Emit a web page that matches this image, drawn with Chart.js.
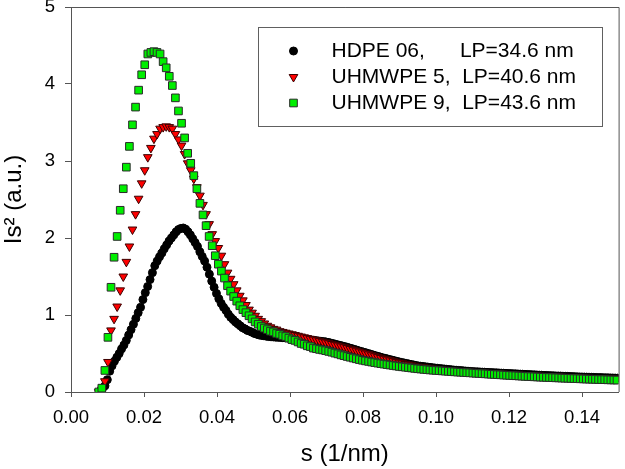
<!DOCTYPE html>
<html>
<head>
<meta charset="utf-8">
<script src="https://cdn.jsdelivr.net/npm/chart.js@4.4.1/dist/chart.umd.min.js"></script>
<style>
  html, body { margin: 0; padding: 0; background: #fff; }
  #wrap { width: 625px; height: 469px; }
</style>
</head>
<body>
<div id="wrap"><canvas id="chartIs2" width="625" height="469"></canvas></div>
<script>
// s (1/nm) values of the HDPE 06 curve
var sHdpe = [
  0.00800,0.00865,0.00930,0.00995,0.01060,0.01125,0.01190,0.01255,0.01320,0.01385,
  0.01450,0.01515,0.01580,0.01645,0.01710,0.01775,0.01840,0.01905,0.01970,0.02035,
  0.02100,0.02165,0.02230,0.02295,0.02360,0.02425,0.02490,0.02555,0.02620,0.02685,
  0.02750,0.02815,0.02880,0.02945,0.03010,0.03075,0.03140,0.03205,0.03270,0.03335,
  0.03400,0.03465,0.03530,0.03595,0.03660,0.03725,0.03790,0.03855,0.03920,0.03985,
  0.04050,0.04115,0.04180,0.04245,0.04310,0.04375,0.04440,0.04505,0.04570,0.04635,
  0.04700,0.04765,0.04830,0.04895,0.04960,0.05025,0.05090,0.05155,0.05220,0.05285,
  0.05350,0.05415,0.05480,0.05545,0.05610,0.05675,0.05740,0.05805,0.05870,0.05935,
  0.06000,0.06065,0.06130,0.06195,0.06260,0.06325,0.06390,0.06455,0.06520,0.06585,
  0.06650,0.06715,0.06780,0.06845,0.06910,0.06975,0.07040,0.07105,0.07170,0.07235,
  0.07300,0.07365,0.07430,0.07495,0.07560,0.07625,0.07690,0.07755,0.07820,0.07885,
  0.07950,0.08015,0.08080,0.08145,0.08210,0.08275,0.08340,0.08405,0.08470,0.08535,
  0.08600,0.08665,0.08730,0.08795,0.08860,0.08925,0.08990,0.09055,0.09120,0.09185,
  0.09250,0.09315,0.09380,0.09445,0.09510,0.09575,0.09640,0.09705,0.09770,0.09835,
  0.09900,0.09965,0.10030,0.10095,0.10160,0.10225,0.10290,0.10355,0.10420,0.10485,
  0.10550,0.10615,0.10680,0.10745,0.10810,0.10875,0.10940,0.11005,0.11070,0.11135,
  0.11200,0.11265,0.11330,0.11395,0.11460,0.11525,0.11590,0.11655,0.11720,0.11785,
  0.11850,0.11915,0.11980,0.12045,0.12110,0.12175,0.12240,0.12305,0.12370,0.12435,
  0.12500,0.12565,0.12630,0.12695,0.12760,0.12825,0.12890,0.12955,0.13020,0.13085,
  0.13150,0.13215,0.13280,0.13345,0.13410,0.13475,0.13540,0.13605,0.13670,0.13735,
  0.13800,0.13865,0.13930,0.13995,0.14060,0.14125,0.14190,0.14255,0.14320,0.14385,
  0.14450,0.14515,0.14580,0.14645,0.14710,0.14775,0.14840,0.14905,0.14970
];

// Is^2 of HDPE 06
var isHdpe = [
  0.00,0.05,0.08,0.16,0.27,0.34,0.40,0.45,0.50,0.56,
  0.61,0.67,0.74,0.81,0.88,0.955,1.03,1.10,1.20,1.29,
  1.37,1.46,1.55,1.64,1.70,1.755,1.805,1.86,1.91,1.96,
  2.00,2.04,2.08,2.11,2.125,2.13,2.115,2.08,2.04,1.99,
  1.94,1.89,1.82,1.76,1.70,1.62,1.53,1.44,1.36,1.28,
  1.21,1.15,1.10,1.06,1.01,0.97,0.94,0.91,0.885,0.86,
  0.835,0.82,0.80,0.79,0.775,0.76,0.75,0.74,0.735,0.73,
  0.725,0.72,0.717,0.715,0.712,0.71,0.708,0.705,0.703,0.70,
  0.700,0.698,0.695,0.692,0.689,0.686,0.684,0.681,0.679,0.675,
  0.671,0.667,0.663,0.659,0.655,0.651,0.645,0.637,0.630,0.621,
  0.614,0.606,0.598,0.590,0.582,0.572,0.564,0.554,0.545,0.535,
  0.527,0.517,0.509,0.499,0.491,0.481,0.472,0.463,0.454,0.445,
  0.438,0.430,0.422,0.414,0.407,0.398,0.391,0.384,0.378,0.371,
  0.365,0.358,0.352,0.345,0.339,0.335,0.332,0.327,0.324,0.320,
  0.316,0.312,0.309,0.305,0.302,0.299,0.295,0.292,0.289,0.285,
  0.283,0.280,0.278,0.275,0.272,0.270,0.267,0.265,0.263,0.262,
  0.260,0.258,0.257,0.255,0.253,0.252,0.250,0.249,0.247,0.245,
  0.244,0.242,0.240,0.239,0.237,0.236,0.234,0.232,0.231,0.229,
  0.228,0.226,0.224,0.223,0.221,0.219,0.218,0.216,0.215,0.213,
  0.212,0.211,0.209,0.208,0.207,0.205,0.204,0.203,0.201,0.200,
  0.199,0.197,0.196,0.195,0.194,0.193,0.192,0.191,0.190,0.189,
  0.188,0.187,0.186,0.185,0.184,0.183,0.182,0.181,0.180
];

// s (1/nm) values shared by both UHMWPE curves
var sUhmwpe = [
  0.00760,0.00844,0.00928,0.01012,0.01096,0.01180,0.01264,0.01348,0.01432,0.01516,
  0.01600,0.01684,0.01768,0.01852,0.01936,0.02020,0.02104,0.02188,0.02272,0.02356,
  0.02440,0.02524,0.02608,0.02692,0.02776,0.02860,0.02944,0.03028,0.03112,0.03196,
  0.03280,0.03364,0.03448,0.03532,0.03616,0.03700,0.03784,0.03868,0.03952,0.04036,
  0.04120,0.04204,0.04288,0.04372,0.04456,0.04540,0.04624,0.04708,0.04792,0.04876,
  0.04960,0.05044,0.05128,0.05212,0.05296,0.05380,0.05464,0.05548,0.05632,0.05716,
  0.05800,0.05884,0.05968,0.06052,0.06136,0.06220,0.06304,0.06388,0.06472,0.06556,
  0.06640,0.06724,0.06808,0.06892,0.06976,0.07060,0.07144,0.07228,0.07312,0.07396,
  0.07480,0.07564,0.07648,0.07732,0.07816,0.07900,0.07984,0.08068,0.08152,0.08236,
  0.08320,0.08404,0.08488,0.08572,0.08656,0.08740,0.08824,0.08908,0.08992,0.09076,
  0.09160,0.09244,0.09328,0.09412,0.09496,0.09580,0.09664,0.09748,0.09832,0.09916,
  0.10000,0.10084,0.10168,0.10252,0.10336,0.10420,0.10504,0.10588,0.10672,0.10756,
  0.10840,0.10924,0.11008,0.11092,0.11176,0.11260,0.11344,0.11428,0.11512,0.11596,
  0.11680,0.11764,0.11848,0.11932,0.12016,0.12100,0.12184,0.12268,0.12352,0.12436,
  0.12520,0.12604,0.12688,0.12772,0.12856,0.12940,0.13024,0.13108,0.13192,0.13276,
  0.13360,0.13444,0.13528,0.13612,0.13696,0.13780,0.13864,0.13948,0.14032,0.14116,
  0.14200,0.14284,0.14368,0.14452,0.14536,0.14620,0.14704,0.14788,0.14872,0.14956
];

// Is^2 of UHMWPE 5
var isUhmwpe5 = [
  0.00,0.03,0.14,0.39,0.80,0.95,1.11,1.32,1.50,1.69,
  1.89,2.11,2.31,2.51,2.71,2.88,3.05,3.17,3.29,3.35,
  3.42,3.44,3.45,3.44,3.42,3.35,3.28,3.20,3.09,2.97,
  2.88,2.77,2.66,2.55,2.43,2.31,2.18,2.05,1.96,1.87,
  1.77,1.66,1.55,1.47,1.40,1.32,1.25,1.19,1.13,1.07,
  1.03,0.99,0.95,0.92,0.89,0.86,0.84,0.82,0.81,0.79,
  0.78,0.77,0.76,0.75,0.74,0.73,0.72,0.71,0.70,0.69,
  0.68,0.671,0.661,0.652,0.643,0.633,0.623,0.613,0.603,0.592,
  0.582,0.571,0.559,0.548,0.536,0.524,0.512,0.500,0.489,0.477,
  0.465,0.453,0.442,0.431,0.421,0.411,0.401,0.391,0.381,0.372,
  0.364,0.356,0.347,0.339,0.330,0.325,0.320,0.315,0.310,0.305,
  0.300,0.296,0.292,0.287,0.283,0.279,0.275,0.272,0.269,0.266,
  0.263,0.261,0.258,0.256,0.253,0.251,0.249,0.247,0.245,0.242,
  0.240,0.238,0.236,0.234,0.232,0.229,0.227,0.225,0.223,0.221,
  0.219,0.217,0.215,0.213,0.211,0.208,0.206,0.205,0.203,0.201,
  0.200,0.198,0.196,0.195,0.193,0.191,0.190,0.188,0.186,0.185,
  0.183,0.182,0.180,0.179,0.177,0.176,0.174,0.173,0.172,0.170
];

// Is^2 of UHMWPE 9
var isUhmwpe9 = [
  0.00,0.05,0.28,0.71,1.36,1.75,2.02,2.36,2.64,2.92,
  3.19,3.47,3.70,3.92,4.12,4.25,4.39,4.41,4.42,4.41,
  4.39,4.29,4.21,4.10,3.98,3.82,3.65,3.49,3.30,3.10,
  2.97,2.81,2.64,2.45,2.30,2.16,2.02,1.90,1.77,1.66,
  1.57,1.48,1.38,1.31,1.24,1.18,1.12,1.07,1.03,0.99,
  0.95,0.91,0.88,0.85,0.83,0.81,0.79,0.78,0.76,0.75,
  0.73,0.72,0.70,0.68,0.67,0.65,0.63,0.62,0.60,0.59,
  0.570,0.562,0.553,0.546,0.537,0.527,0.517,0.505,0.495,0.482,
  0.472,0.461,0.451,0.441,0.431,0.421,0.412,0.404,0.397,0.389,
  0.382,0.375,0.368,0.362,0.356,0.350,0.344,0.338,0.332,0.327,
  0.322,0.317,0.312,0.307,0.302,0.298,0.294,0.290,0.286,0.283,
  0.280,0.277,0.274,0.271,0.268,0.265,0.262,0.259,0.257,0.254,
  0.251,0.249,0.246,0.243,0.241,0.238,0.236,0.233,0.230,0.228,
  0.225,0.223,0.220,0.218,0.215,0.213,0.211,0.208,0.206,0.203,
  0.201,0.199,0.197,0.195,0.193,0.191,0.189,0.188,0.186,0.184,
  0.183,0.181,0.179,0.178,0.176,0.174,0.173,0.171,0.170,0.168,
  0.167,0.165,0.164,0.162,0.161,0.160,0.158,0.157,0.156,0.155
];

var seriesLabels = ['HDPE 06,      LP=34.6 nm', 'UHMWPE 5,  LP=40.6 nm', 'UHMWPE 9,  LP=43.6 nm'];
var xTickValues = [0, 0.02, 0.04, 0.06, 0.08, 0.10, 0.12, 0.14];
var yTickValues = [0, 1, 2, 3, 4, 5];

function toPoints(xs, ys) {
    return xs.map(function(x, k) { return { x: x, y: ys[k] }; });
}

var FONT = "'Liberation Sans', Arial, sans-serif";
var AXIS_COLOR = '#555555';

// own marker drawing for the boxed legend
function drawMarker(ctx, style, x, y) {
    ctx.save();
    ctx.fillStyle = style.fill;
    ctx.strokeStyle = style.stroke;
    ctx.lineWidth = 1;
    ctx.beginPath();
    if (style.shape === 'circle') {
        ctx.arc(x, y, style.r, 0, Math.PI * 2);
    } else if (style.shape === 'triangle') {
        var r = style.r;
        ctx.moveTo(x - r * 0.866, y - r * 0.5);
        ctx.lineTo(x + r * 0.866, y - r * 0.5);
        ctx.lineTo(x, y + r);
        ctx.closePath();
    } else {
        var h = style.r * Math.SQRT1_2;
        ctx.rect(x - h, y - h, 2 * h, 2 * h);
    }
    ctx.fill();
    ctx.stroke();
    ctx.restore();
}

var markerStyles = [
    { shape: 'circle', r: 4, fill: '#000000', stroke: '#000000' },
    { shape: 'triangle', r: 5, fill: '#ff0000', stroke: '#3a0000' },
    { shape: 'rect', r: 5.4, fill: '#00ee00', stroke: '#2a2a2a' }
];

var framePlugin = {
    id: 'frame',
    afterDraw: function(chart) {
        var a = chart.chartArea;
        var ctx = chart.ctx;
        ctx.save();
        ctx.strokeStyle = AXIS_COLOR;
        ctx.lineWidth = 1;
        ctx.beginPath();
        ctx.moveTo(a.left, a.top + 0.5);
        ctx.lineTo(a.right + 0.5, a.top + 0.5);
        ctx.lineTo(a.right + 0.5, a.bottom);
        ctx.stroke();

        // legend box inside the plot
        var bx = a.left + 187.5, by = a.top + 20.5, bw = 344, bh = 99;
        ctx.fillStyle = '#ffffff';
        ctx.fillRect(bx, by, bw, bh);
        ctx.strokeStyle = '#606060';
        ctx.strokeRect(bx, by, bw, bh);
        ctx.font = '21px ' + FONT;
        ctx.fillStyle = '#000000';
        ctx.textBaseline = 'middle';
        ctx.textAlign = 'left';
        for (var k = 0; k < seriesLabels.length; k++) {
            var rowY = by + 23.5 + k * 26;
            drawMarker(ctx, markerStyles[k], bx + 35, rowY);
            ctx.fillText(seriesLabels[k], bx + 73, rowY + 0.5);
        }
        ctx.restore();
    }
};

document.addEventListener("DOMContentLoaded", function() {
    var ctx = document.getElementById('chartIs2').getContext('2d');
    var chart = new Chart(ctx, {
        type: 'scatter',
        data: {
            datasets: [{
                label: seriesLabels[0],
                data: toPoints(sHdpe, isHdpe),
                pointStyle: 'circle',
                pointRadius: markerStyles[0].r,
                backgroundColor: markerStyles[0].fill,
                borderColor: markerStyles[0].stroke,
                borderWidth: 1,
                order: 2
            }, {
                label: seriesLabels[1],
                data: toPoints(sUhmwpe, isUhmwpe5),
                pointStyle: 'triangle',
                rotation: 180,
                pointRadius: markerStyles[1].r,
                backgroundColor: markerStyles[1].fill,
                borderColor: markerStyles[1].stroke,
                borderWidth: 1,
                order: 1
            }, {
                label: seriesLabels[2],
                data: toPoints(sUhmwpe, isUhmwpe9),
                pointStyle: 'rect',
                pointRadius: markerStyles[2].r,
                backgroundColor: markerStyles[2].fill,
                borderColor: markerStyles[2].stroke,
                borderWidth: 1,
                order: 0
            }]
        },
        options: {
            responsive: false,
            animation: false,
            events: [],
            layout: { padding: { top: 7, right: 2, left: 0, bottom: 0 } },
            plugins: {
                legend: { display: false },
                tooltip: { enabled: false }
            },
            scales: {
                x: {
                    type: 'linear',
                    min: 0,
                    max: 0.15,
                    afterBuildTicks: function(scale) {
                        scale.ticks = xTickValues.map(function(v) { return { value: v }; });
                    },
                    afterFit: function(scale) {
                        scale.height = 77;
                        scale.paddingLeft = 0;
                        scale.paddingRight = 0;
                    },
                    grid: {
                        drawOnChartArea: false,
                        drawTicks: true,
                        tickLength: 5,
                        color: AXIS_COLOR
                    },
                    border: { color: AXIS_COLOR, width: 1 },
                    ticks: {
                        autoSkip: false,
                        maxRotation: 0,
                        padding: 10,
                        color: '#000000',
                        font: { family: FONT, size: 18.5 },
                        callback: function(v) { return Number(v).toFixed(2); }
                    },
                    title: {
                        display: true,
                        text: 's (1/nm)',
                        color: '#000000',
                        padding: 0,
                        font: { family: FONT, size: 24 }
                    }
                },
                y: {
                    type: 'linear',
                    min: 0,
                    max: 5,
                    afterBuildTicks: function(scale) {
                        scale.ticks = yTickValues.map(function(v) { return { value: v }; });
                    },
                    afterFit: function(scale) {
                        scale.width = 71;
                        scale.paddingTop = 0;
                        scale.paddingBottom = 0;
                    },
                    grid: {
                        drawOnChartArea: false,
                        drawTicks: true,
                        tickLength: 6,
                        color: AXIS_COLOR
                    },
                    border: { color: AXIS_COLOR, width: 1 },
                    ticks: {
                        padding: 10,
                        color: '#000000',
                        font: { family: FONT, size: 18.5 }
                    },
                    title: {
                        display: true,
                        text: 'Is\u00b2 (a.u.)',
                        color: '#000000',
                        padding: 0,
                        font: { family: FONT, size: 24 }
                    }
                }
            }
        },
        plugins: [framePlugin]
    });
});
</script>
</body>
</html>
